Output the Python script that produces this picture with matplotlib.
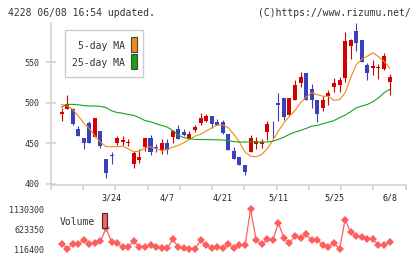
import matplotlib
matplotlib.use('Agg')
import matplotlib.pyplot as plt
from matplotlib.patches import Rectangle
import numpy as np

plt.rcParams['font.family'] = 'DejaVu Sans Mono'

# --- data (index 0 = 3/9 ... index 60 = 6/8) ---
opens = [467, 486, 492.6, 492.6, 467, 456, 474.4, 458, 464.6, 431,
         436, 449.8, 451, 450, 423.8, 429, 445.7, 456, 445.7, 441.5,
         450.6, 458, 467, 464, 454.7, 466.2, 474.4, 477.3, 483.5, 476,
         476.5, 461, 440, 433, 422.6, 439, 448.5, 449.4, 464.2, 478,
         500, 505.3, 484.7, 504, 523.8, 537, 516.4, 503.2, 493.8, 508,
         519.3, 521.7, 531, 570, 588, 577, 546, 543.5, 543, 542,
         526]
highs = [467, 494, 509, 493, 471, 457, 477, 480.6, 464.6, 431,
         439.4, 458.6, 459, 455, 441, 443.4, 456, 460, 449, 455.5,
         455.5, 465, 472, 467, 465, 472, 487.3, 485.6, 483.5, 480,
         479, 461, 445, 433, 422.6, 460, 458, 455.6, 477, 478,
         512, 505.3, 505.3, 528, 537.5, 537, 522.6, 503.2, 508, 516,
         530, 532, 588, 579, 598, 577, 549, 553, 548, 561.5,
         535.6]
lows = [467, 477, 491.8, 472, 458.8, 443, 450.6, 458, 444, 407,
        424.6, 448, 448, 446, 419.5, 425, 440, 436, 439.5, 437,
        437, 450, 454.7, 459, 454.7, 464, 472, 476, 469, 472.4,
        462, 442, 431, 422.5, 411, 439, 443, 444, 454, 456,
        477, 479, 484.7, 504, 519.7, 503.2, 494, 475.7, 490, 497,
        513, 513, 526, 553.6, 564, 550, 527.6, 534, 529, 540.6,
        510]
closes = [467, 488, 499, 474, 458.8, 450.6, 450.6, 480.6, 446.4, 413.6,
          434, 456, 454, 451, 437.4, 432.5, 456, 439.5, 443.6, 450.6,
          441.5, 465, 454.7, 460, 461, 470.4, 480.6, 483.5, 473.2, 472.4,
          463, 442, 431, 423, 414.8, 456, 452.6, 451.4, 473.2, 477,
          497, 482, 505.3, 521.4, 532, 503.2, 503.2, 486.4, 502.8, 511.5,
          524, 528, 576, 578, 574, 550, 537, 545, 544, 557.5,
          531.6]

# moving averages (start at index 1)
ma5 = [498, 496, 491.7, 483.5, 475, 468, 459, 451.4, 445.7, 445.7,
       445.7, 446.4, 443, 439.5, 440.3, 444, 445.7, 443, 441, 442.3,
       445.2, 447.3, 450.6, 454.7, 458.8, 461, 465, 469, 472.4, 472.4,
       469, 461, 451.4, 439, 434, 433.3, 436, 443, 453.5, 465,
       475, 483.5, 490.5, 500, 507, 512.3, 510, 508, 508, 503,
       504, 512, 531, 547, 553.5, 557.5, 561.7, 557, 551, 543]
ma25 = [494.6, 498, 498, 497.5, 496.5, 496, 496, 495.5, 494, 490,
        488, 487, 485.5, 484.3, 481.5, 478, 476.5, 474, 472, 470,
        465.8, 460, 456.8, 455.5, 454.7, 454.5, 454.5, 454.3, 454.2, 454,
        453, 452, 451.5, 451.5, 451.5, 451.5, 451.5, 451.5, 452.5, 454.7,
        457.5, 461, 463.8, 465.8, 468.3, 471, 472, 474, 476, 478,
        481.5, 484.7, 488.9, 493.8, 495.8, 497.9, 501.2, 506, 512.3, 516.4]

# volume (index 1..60)
volume = [250000, 124000, 250000, 250000, 350000, 250000, 270000, 320000, 640000, 300000,
          270000, 170000, 180000, 320000, 180000, 180000, 220000, 170000, 140000, 140000,
          370000, 170000, 140000, 120000, 120000, 340000, 220000, 140000, 170000, 140000,
          250000, 140000, 220000, 220000, 1130000, 340000, 250000, 370000, 340000, 780000,
          400000, 270000, 460000, 400000, 490000, 350000, 350000, 220000, 180000, 270000,
          124000, 860000, 550000, 460000, 420000, 370000, 370000, 220000, 220000, 300000]

date_labels = ['3/24', '4/7', '4/21', '5/11', '5/25', '6/8']
date_index = [10, 20, 30, 40, 50, 60]
vol_ticks = [116400, 623350, 1130300]

RED = '#d50000'
BLUE = '#3b40bf'
ORANGE = '#f08a12'
GREEN = '#17a317'
VOLC = '#ff5e5e'
GRID = '#d0d0d0'

W, H = 420, 259
fig = plt.figure(figsize=(W / 100, H / 100), dpi=100)


def fx(px):
    return px / W


def fy(py):
    return 1 - py / H


x0, x1 = 50.7, 405.7
xlim = (-0.95, 62.9)

# --- price panel ---
ax = fig.add_axes([fx(x0), fy(184.5), fx(x1 - x0), (184.5 - 23) / H])
x = np.arange(len(closes))
o = np.array(opens)
c = np.array(closes)
up = c >= o
cols = [RED if u else BLUE for u in up]
ax.vlines(x, lows, highs, colors=cols, linewidth=0.8, zorder=3)
body_lo = np.minimum(o, c)
body_h = np.maximum(np.abs(c - o), 0.9)
ax.bar(x, body_h, bottom=body_lo, width=0.72, color=cols, linewidth=0, zorder=4)

xm = np.arange(1, len(closes))
ax.plot(xm, ma5, color=ORANGE, lw=0.8, zorder=5)
ax.plot(xm, ma25, color=GREEN, lw=0.8, zorder=5)

ax.set_xlim(*xlim)
ax.set_ylim(399, 598.5)
ax.set_yticks([400, 450, 500, 550])
ax.set_xticks(np.linspace(xlim[0], xlim[1], 12))
ax.set_xticklabels([])
for s in ['top', 'right']:
    ax.spines[s].set_visible(False)
for s in ['left', 'bottom']:
    ax.spines[s].set_color(GRID)
    ax.spines[s].set_linewidth(1.1)
ax.tick_params(axis='y', direction='inout', length=7.5, width=1.1, color=GRID,
               labelsize=6, pad=4.3, labelcolor='#333333')
ax.tick_params(axis='x', direction='out', length=3.8, width=1.1, color=GRID)

for lab, i in zip(date_labels, date_index):
    ax.text(i, 399 - (198.3 - 184.5) / 0.8095, lab, ha='center', va='center',
            fontsize=6, color='#222222', clip_on=False)

# --- volume panel ---
axv = fig.add_axes([fx(x0), fy(249.3), fx(x1 - x0), (249.3 - 209) / H])
axv.plot(np.arange(1, len(closes)), volume, color=VOLC, lw=0.9,
         marker='D', markersize=4.3, markeredgewidth=0, clip_on=False)
axv.set_xlim(*xlim)
axv.set_ylim(vol_ticks[0], vol_ticks[-1])
axv.set_yticks(vol_ticks)
axv.set_yticklabels([str(v) for v in vol_ticks])
axv.set_xticks([])
for s in axv.spines.values():
    s.set_visible(False)
axv.tick_params(axis='y', length=0, labelsize=6, pad=4.8, labelcolor='#333333')
axv.patch.set_alpha(0)

# --- legends ---
fig.add_artist(Rectangle((fx(65), fy(77)), fx(78), (77 - 30) / H,
                         transform=fig.transFigure, facecolor='white',
                         edgecolor='#cccccc', lw=1.0, zorder=6))
fig.text(fx(125), fy(45.7), '5-day MA', ha='right', va='center', fontsize=7,
         color='#333333', zorder=7)
fig.text(fx(125), fy(62.7), '25-day MA', ha='right', va='center', fontsize=7,
         color='#333333', zorder=7)
fig.add_artist(Rectangle((fx(131), fy(51.7)), fx(6.3), 14.4 / H,
                         transform=fig.transFigure, facecolor=ORANGE,
                         edgecolor='#444444', lw=0.8, zorder=7))
fig.add_artist(Rectangle((fx(131), fy(69.3)), fx(6.3), 15 / H,
                         transform=fig.transFigure, facecolor=GREEN,
                         edgecolor='#444444', lw=0.8, zorder=7))

fig.text(fx(59.3), fy(222.3), 'Volume', ha='left', va='center', fontsize=7,
         color='#333333', zorder=7)
fig.add_artist(Rectangle((fx(101.7), fy(228.3)), fx(5.6), 15 / H,
                         transform=fig.transFigure, facecolor=VOLC,
                         edgecolor='#333333', lw=0.8, zorder=7))

# --- header ---
fig.text(fx(8), fy(13.3), '4228 06/08 16:54 updated.', ha='left', va='center',
         fontsize=7, color='#333333')
fig.text(fx(411), fy(13.3), '(C)https://www.rizumu.net/', ha='right', va='center',
         fontsize=7, color='#333333')

fig.savefig('out.png', dpi=100)
